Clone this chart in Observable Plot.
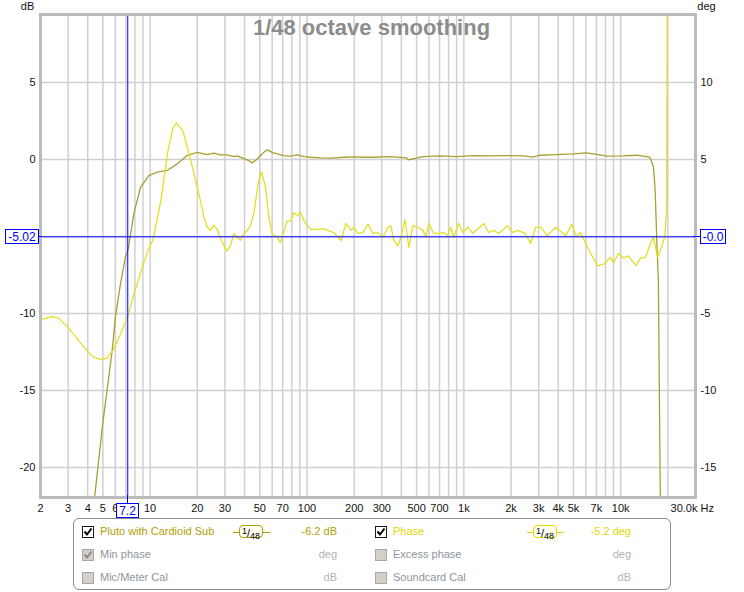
<!DOCTYPE html>
<html><head><meta charset="utf-8">
<script src="https://cdn.jsdelivr.net/npm/d3@7"></script>
<script src="https://cdn.jsdelivr.net/npm/@observablehq/plot@0.6"></script>
<style>
body{margin:0;background:#fff;font-family:"Liberation Sans",Arial,sans-serif;}
#wrap{position:relative;width:744px;height:592px;overflow:hidden;}
#wrap svg{position:absolute;left:0;top:0;}
.lg{position:absolute;font-size:11px;line-height:13px;white-space:nowrap;}
.cb{position:absolute;width:10px;height:10px;box-sizing:content-box;}
.sm{position:absolute;height:11px;width:22px;border-radius:4px;background:#fffff4;font-size:10px;line-height:11px;color:#000;text-align:center;white-space:nowrap;}
.smline{position:absolute;height:1px;}
</style></head><body><div id="wrap"></div>
<script>
// ---------- data ----------
const magFreq = [4.3, 4.42, 4.98, 5.73, 6.01, 6.47, 6.96, 7.25, 7.87, 8.69, 9.81, 11.1, 12.85, 14.9, 17.2, 19.95, 23.1, 25.5, 28.1, 31, 34.2, 35.9, 41.6, 44.8, 48.2, 53.1, 55.8, 60, 64.6, 71.2, 78.5, 86.6, 95.5, 105, 122, 141, 172, 199, 230, 264, 337, 431, 442, 551, 703, 897, 1146, 1464, 1870, 2389, 2766, 3050, 3894, 4975, 6045, 7354, 8112, 10360, 12590, 15300, 15500, 16200, 16600, 17000, 17400, 17900, 18100];
const magDb   = [-23.5, -22.0, -17.2, -12.4, -10.2, -8.07, -6.34, -5.8, -3.53, -1.8, -1.04, -0.82, -0.71, -0.28, 0.26, 0.47, 0.32, 0.41, 0.30, 0.30, 0.19, 0.24, -0.02, -0.22, 0.04, 0.47, 0.63, 0.47, 0.37, 0.26, 0.22, 0.30, 0.19, 0.15, 0.11, 0.09, 0.15, 0.17, 0.15, 0.15, 0.19, 0.11, -0.02, 0.19, 0.24, 0.19, 0.26, 0.24, 0.26, 0.24, 0.15, 0.28, 0.32, 0.37, 0.43, 0.30, 0.22, 0.24, 0.28, 0.15, 0.05, -0.5, -2.03, -5.3, -7.9, -22.0, -24];

const phaseFreq = [2.0, 2.34, 2.6, 3.0, 3.4, 3.8, 4.3, 4.87, 5.3, 5.8, 6.5, 7.2, 7.9, 8.8, 9.7, 10.4, 11.7, 13.0, 14.0, 14.7, 16.2, 18.2, 19.95, 20.9, 22.0, 23.1, 24.3, 25.5, 26.8, 28.1, 29.5, 31, 32.5, 34.2, 35.9, 37.7, 39.6, 41.6, 43.6, 45.8, 49.3, 51.3, 54.4, 57.1, 60, 64.6, 67.8, 71, 74.7, 78.5, 82.4, 87.6, 90.9, 97.8, 106, 128, 148, 165, 177, 191, 199, 211, 227, 245, 263, 283, 305, 328, 343, 358, 380, 397, 421, 440, 447, 473, 509, 548, 573, 599, 643, 693, 745, 790, 825, 862, 927, 985, 1060, 1140, 1230, 1340, 1440, 1550, 1670, 1900, 2050, 2200, 2460, 2670, 2870, 3100, 3400, 3860, 4460, 4880, 5200, 5560, 5980, 6440, 7140, 7800, 8600, 9000, 9700, 10400, 11200, 12500, 13400, 14400, 15500, 16200, 17200, 18200, 19100, 19600, 19900];
const phaseDeg  = [-5.4, -5.2, -5.3, -5.9, -6.6, -7.2, -7.8, -8.0, -7.9, -7.4, -6.3, -5.2, -3.7, -2.2, -0.9, -0.26, 2.3, 5.6, 7.05, 7.38, 6.85, 4.9, 3.22, 2.36, 1.27, 0.62, 0.41, 0.75, 0.45, -0.13, -0.56, -0.95, -0.6, 0.19, -0.03, -0.24, 0.19, 0.41, 0.7, 1.49, 3.66, 4.19, 3.22, 1.27, 0.19, -0.05, -0.4, 0.3, 1.0, 1.0, 1.55, 1.35, 1.6, 0.85, 0.45, 0.5, 0.26, -0.26, 0.85, 0.4, 0.6, 0.2, 0.26, 0.8, 0.2, 0.26, -0.05, 0.6, 0.7, -0.26, -0.6, -0.05, 1.1, -0.26, -0.7, 0.7, 0.6, 0.4, -0.05, 0.85, 0.2, 0.2, 0.26, 0.06, 0.6, -0.05, 0.85, 0.26, 0.6, 0.2, 0.5, 0.85, 0.26, 0.4, 0.2, 0.7, 0.26, 0.4, 0.2, -0.45, 0.6, 0.6, 0.06, 0.6, 0.06, 0.8, 0.0, 0.26, -0.45, -1.1, -1.9, -1.8, -1.35, -1.7, -1.1, -1.4, -1.25, -1.9, -1.4, -1.35, -0.45, -0.05, -1.35, -0.7, -0.05, 1.55, 20];

const xTickValues = [2, 3, 4, 5, 6, 10, 20, 30, 50, 70, 100, 200, 300, 500, 700, 1000, 2000, 3000, 4000, 5000, 7000, 10000];
const xTickLabels = ["2", "3", "4", "5", "6", "10", "20", "30", "50", "70", "100", "200", "300", "500", "700", "1k", "2k", "3k", "4k", "5k", "7k", "10k"];
const xGrid = [2, 3, 4, 5, 6, 7, 8, 9, 10, 20, 30, 40, 50, 60, 70, 80, 90, 100, 200, 300, 400, 500, 600, 700, 800, 900, 1000, 2000, 3000, 4000, 5000, 6000, 7000, 8000, 9000, 10000, 20000];
const yGrid = [5, 0, -5, -10, -15, -20];
const dbTicks = [5, 0, -10, -15, -20];        // -5 is covered by the cursor box
const degTicks = [10, 5, -5, -10, -15];       // 0 is covered by the cursor box
const phaseOffset = 5;                        // deg axis = dB axis + 5
const cursorFreq = 7.2, cursorDb = -5.02;
const cursorLabels = {x: "7.2", left: "-5.02", right: "-0.0"};
const titleText = "1/48 octave smoothing";

const legendItems = [
  {col: 0, row: 0, label: "Pluto with Cardioid Sub", checked: true, enabled: true, color: "#aea000", unit: "-6.2 dB", smooth: true},
  {col: 1, row: 0, label: "Phase", checked: true, enabled: true, color: "#e2d800", unit: "-5.2 deg", smooth: true},
  {col: 0, row: 1, label: "Min phase", checked: true, enabled: false, unit: "deg"},
  {col: 1, row: 1, label: "Excess phase", checked: false, enabled: false, unit: "deg"},
  {col: 0, row: 2, label: "Mic/Meter Cal", checked: false, enabled: false, unit: "dB"},
  {col: 1, row: 2, label: "Soundcard Cal", checked: false, enabled: false, unit: "dB"}
];

// ---------- chart ----------
const mag = magFreq.map((f, i) => ({f, v: magDb[i]}));
const ph = phaseFreq.map((f, i) => ({f, v: phaseDeg[i]}));
const gridColor = "#d0d0d0";
const tickColor = "#111";

const chart = Plot.plot({
  width: 744, height: 518,
  marginTop: 14, marginLeft: 40, marginRight: 49, marginBottom: 21,
  style: {fontFamily: "'Liberation Sans', Arial, sans-serif", fontSize: "11px", background: "#fff", overflow: "visible"},
  x: {type: "log", domain: [2, 30000], axis: null},
  y: {domain: [-21.95, 9.42]},
  marks: [
    Plot.ruleX(xGrid, {stroke: gridColor, strokeWidth: 1.5}),
    Plot.ruleY(yGrid, {stroke: gridColor, strokeWidth: 1.5}),
    Plot.line(mag, {x: "f", y: "v", stroke: "#a9a032", strokeWidth: 1.3, clip: true}),
    Plot.line(ph, {x: "f", y: d => d.v - phaseOffset, stroke: "#e3df24", strokeWidth: 1.3, clip: true}),
    Plot.ruleX([cursorFreq], {stroke: "#0000ff", strokeWidth: 1}),
    Plot.ruleY([cursorDb], {stroke: "#0000ff", strokeWidth: 1}),
    Plot.frame({stroke: "#bcbcbc", strokeWidth: 3}),
    Plot.axisY(dbTicks, {anchor: "left", label: null, tickSize: 0, tickPadding: 5, tickFormat: d => String(d), fill: tickColor}),
    Plot.axisY(degTicks.map(d => d - phaseOffset), {anchor: "right", label: null, tickSize: 0, tickPadding: 5, tickFormat: d => String(Math.round(d + phaseOffset)), fill: tickColor}),
    Plot.text(xTickValues, {x: d => d, text: (d, i) => xTickLabels[i], frameAnchor: "bottom", lineAnchor: "top", textAnchor: "middle", dy: 7, fill: tickColor}),
    Plot.text(["30.0k"], {x: () => 30000, frameAnchor: "bottom", textAnchor: "end", lineAnchor: "top", dx: 2, dy: 7, fill: tickColor}),
    Plot.text(["Hz"], {x: () => 30000, frameAnchor: "bottom", textAnchor: "start", lineAnchor: "top", dx: 5, dy: 7, fill: tickColor}),
    Plot.text(["dB"], {frameAnchor: "top-left", textAnchor: "middle", lineAnchor: "middle", dx: -13, dy: -8, fill: tickColor}),
    Plot.text(["deg"], {frameAnchor: "top-right", textAnchor: "middle", lineAnchor: "middle", dx: 11, dy: -8, fill: tickColor}),
    Plot.text([titleText], {frameAnchor: "top", textAnchor: "middle", lineAnchor: "top", dx: 3.5, dy: 5, fontSize: 22, fontWeight: "bold", fill: "#8c8c8c"})
  ]
});
document.getElementById("wrap").appendChild(chart);

// ---------- cursor boxes (positioned via the chart's scales) ----------
const sx = chart.scale("x"), sy = chart.scale("y");
const svg = d3.select(chart);
const cx = Math.round(sx.apply(cursorFreq)) + 0.5;
const cy = Math.round(sy.apply(cursorDb)) + 0.5;
const plotL = 40, plotR = 695, plotB = 497;
const g = svg.append("g").attr("font-family", "'Liberation Sans', Arial, sans-serif").attr("font-size", 12);
g.append("line").attr("x1", cx).attr("x2", cx).attr("y1", plotB - 2).attr("y2", plotB + 6).attr("stroke", "#0000ff");
g.append("line").attr("x1", plotL - 2).attr("x2", plotL + 2).attr("y1", cy).attr("y2", cy).attr("stroke", "#0000ff");
g.append("line").attr("x1", plotR - 2).attr("x2", plotR + 5).attr("y1", cy).attr("y2", cy).attr("stroke", "#0000ff");
function box(x, y, w, h, txt) {
  g.append("rect").attr("x", x + 0.5).attr("y", y + 0.5).attr("width", w).attr("height", h).attr("fill", "#fff").attr("stroke", "#0000ff");
  g.append("text").attr("x", x + 0.5 + w / 2).attr("y", y + 0.5 + h / 2).attr("dy", "0.36em").attr("text-anchor", "middle").attr("fill", "#0000ff").text(txt);
}
box(5, cy - 7.5, 33, 14, cursorLabels.left);
box(plotR + 5, cy - 7.5, 25, 14, cursorLabels.right);
box(cx - 11.5, plotB + 6, 22, 14, cursorLabels.x);

// ---------- legend ----------
const wrap = document.getElementById("wrap");
const lg = document.createElement("div");
lg.style.cssText = "position:absolute;left:73px;top:518px;width:596px;height:70px;border:1px solid #8c8c8c;border-radius:6px;background:#fff;";
wrap.appendChild(lg);
const rowY = [532, 555, 577.5];
const cbX = [82, 375], textX = [100, 393], unitR = [337, 631], smX = [239, 533];
function add(el) { wrap.appendChild(el); return el; }
legendItems.forEach(it => {
  const y = rowY[it.row];
  const cb = document.createElement("div");
  cb.className = "cb";
  cb.style.left = cbX[it.col] + "px";
  cb.style.top = (y - 6) + "px";
  cb.style.border = it.enabled ? "1px solid #1a1a1a" : "1px solid #a8a8a8";
  cb.style.background = it.enabled ? "#fff" : "#d4d0c8";
  if (it.checked) {
    const c = it.enabled ? "#000" : "#8a8a8a";
    cb.innerHTML = `<svg width="10" height="10" style="position:absolute;left:0;top:0"><polyline points="1.5,4.5 4,7.5 8.5,1.5" fill="none" stroke="${c}" stroke-width="2"/></svg>`;
  }
  add(cb);
  const t = document.createElement("div");
  t.className = "lg";
  t.textContent = it.label;
  t.style.left = textX[it.col] + "px";
  t.style.top = (y - 7) + "px";
  t.style.color = it.enabled ? it.color : "#8d959d";
  add(t);
  const u = document.createElement("div");
  u.className = "lg";
  u.textContent = it.unit;
  u.style.right = (744 - unitR[it.col]) + "px";
  u.style.top = (y - 7) + "px";
  u.style.color = it.enabled ? it.color : "#b4b4b4";
  add(u);
  if (it.smooth) {
    const l = document.createElement("div");
    l.className = "smline";
    l.style.left = (smX[it.col] - 6) + "px";
    l.style.width = "37px";
    l.style.top = (y - 0.5) + "px";
    l.style.background = it.color;
    add(l);
    const s = document.createElement("div");
    s.className = "sm";
    s.style.left = smX[it.col] + "px";
    s.style.top = (y - 7) + "px";
    s.style.border = "1.5px solid " + it.color;
    s.innerHTML = `<span style="font-size:9px;vertical-align:3px">1</span><span style="font-size:11px">/</span><span style="font-size:9px;vertical-align:-2px">48</span>`;
    add(s);
  }
});
</script></body></html>
